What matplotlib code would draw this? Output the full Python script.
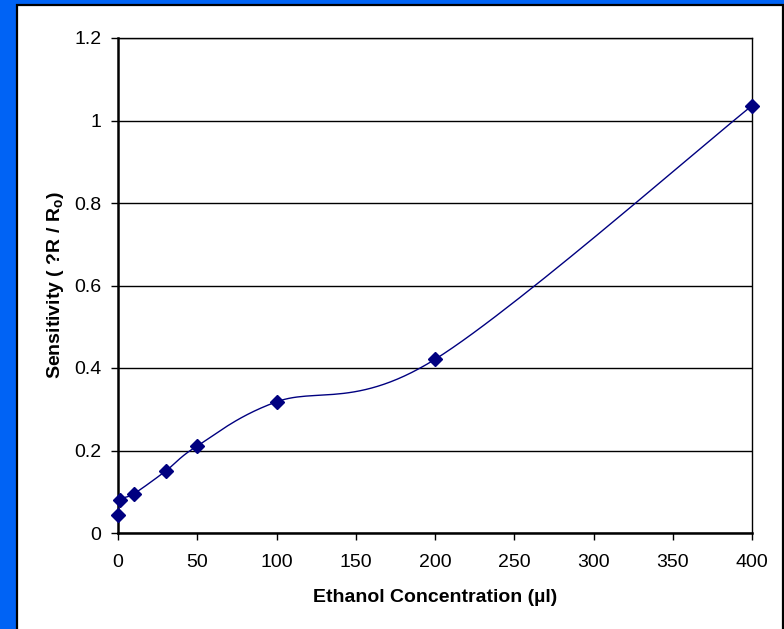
import numpy as np
import matplotlib
matplotlib.use("Agg")
import matplotlib.pyplot as plt
from matplotlib.patches import Rectangle

plt.rcParams['font.family'] = ['Liberation Sans', 'DejaVu Sans']
plt.rcParams['mathtext.fontset'] = 'custom'
plt.rcParams['mathtext.rm'] = 'Liberation Sans'
plt.rcParams['mathtext.bf'] = 'Liberation Sans:bold'

# data
concentration = [0, 1, 10, 30, 50, 100, 200, 400]
sensitivity = [0.044, 0.080, 0.095, 0.150, 0.211, 0.318, 0.421, 1.036]
x_ticks = [0, 50, 100, 150, 200, 250, 300, 350, 400]
y_ticks = [0, 0.2, 0.4, 0.6, 0.8, 1.0, 1.2]
y_tick_labels = ['0', '0.2', '0.4', '0.6', '0.8', '1', '1.2']


def excel_smooth(xs, ys, steps=30):
    # bezier segments like excel's "smoothed line"
    pts = np.column_stack([xs, ys]).astype(float)
    n = len(pts)
    out = [pts[0]]
    for i in range(n - 1):
        p0 = pts[i - 1] if i > 0 else pts[i]
        p1 = pts[i]
        p2 = pts[i + 1]
        p3 = pts[i + 2] if i + 2 < n else pts[i + 1]
        c1 = p1 + (p2 - p0) / 6.0
        c2 = p2 - (p3 - p1) / 6.0
        t = np.linspace(0, 1, steps)[1:, None]
        seg = ((1 - t) ** 3) * p1 + 3 * ((1 - t) ** 2) * t * c1 + 3 * (1 - t) * t ** 2 * c2 + t ** 3 * p2
        out.extend(seg)
    out = np.array(out)
    return out[:, 0], out[:, 1]


W, H = 784, 629
fig = plt.figure(figsize=(W / 100, H / 100), dpi=100)
fig.patch.set_facecolor('#0063F5')

panel = Rectangle((17 / W, -0.02), (783 - 17) / W, (H - 5) / H + 0.02, transform=fig.transFigure,
                  facecolor='white', edgecolor='black', linewidth=1.6, zorder=-5)
fig.patches.append(panel)

ax = fig.add_axes([118 / W, 96 / H, (752 - 118) / W, (533 - 38) / H])
ax.set_zorder(2)
ax.set_facecolor('white')

sx, sy = excel_smooth(concentration, sensitivity)
ax.plot(sx, sy, color='#000080', linewidth=1.0, zorder=3)
ax.plot(concentration, sensitivity, linestyle='none', marker='D', markersize=7,
        color='#000080', zorder=4, clip_on=False)

ax.set_xlim(0, 400)
ax.set_ylim(0, 1.2)
ax.set_xticks(x_ticks)
ax.set_yticks(y_ticks)
ax.set_yticklabels(y_tick_labels)
ax.yaxis.grid(True, color='black', linewidth=1.0)
ax.set_axisbelow(True)

for s in ax.spines.values():
    s.set_color('black')
    s.set_linewidth(1.0)
ax.spines['left'].set_linewidth(1.8)
ax.spines['bottom'].set_linewidth(1.8)

ax.tick_params(axis='both', direction='out', length=5, width=1.0, labelsize=14, colors='black')
ax.tick_params(axis='y', pad=7)
ax.tick_params(axis='x', pad=10)

ax.set_xlabel('Ethanol Concentration (µl)', fontsize=14, fontweight='bold', labelpad=13)
ax.set_ylabel(r'Sensitivity ( ?R / R$_\mathbf{o}$)', fontsize=14, fontweight='bold', labelpad=6)

fig.savefig('out.png', dpi=100, facecolor=fig.get_facecolor())
